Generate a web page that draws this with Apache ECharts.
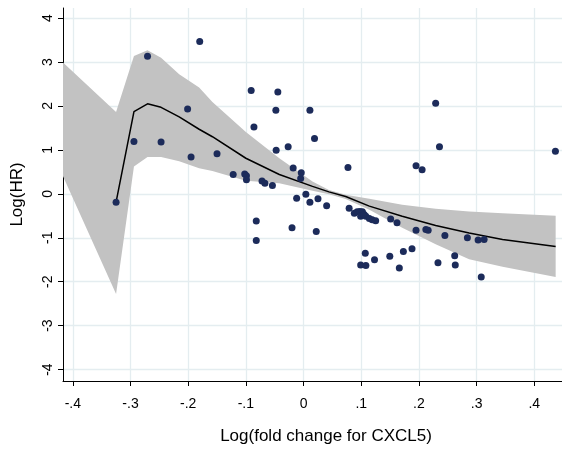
<!DOCTYPE html>
<html>
<head>
<meta charset="utf-8">
<script src="https://cdn.jsdelivr.net/npm/echarts@6/dist/echarts.min.js"></script>
<style>
  html, body { margin: 0; padding: 0; background: #fff; }
  #chart { width: 562px; height: 450px; }
</style>
</head>
<body>
<div id="chart"></div>
<script>
// observed points (x = log fold change, y = log HR)
const pointX = [
  -0.325, -0.294, -0.2705, -0.247, -0.201, -0.195, -0.180, -0.150, -0.122,
  -0.102, -0.099, -0.099, -0.0908, -0.086, -0.082, -0.082, -0.072, -0.067, -0.054,
  -0.048, -0.0475, -0.0446, -0.0267, -0.020, -0.018, -0.012, -0.005, -0.004,
  0.004, 0.011, 0.011, 0.019, 0.022, 0.025, 0.040, 0.077, 0.079,
  0.088, 0.093, 0.0976, 0.102, 0.099, 0.105, 0.108, 0.114, 0.119, 0.125,
  0.099, 0.108, 0.107, 0.123, 0.1495, 0.151, 0.162, 0.166, 0.173, 0.188,
  0.195, 0.195, 0.2055, 0.212, 0.216, 0.229, 0.233, 0.2356, 0.245, 0.262,
  0.263, 0.284, 0.3026, 0.308, 0.313, 0.4366
];
const pointY = [
  -0.19, 1.19, 3.13, 1.18, 1.93, 0.84, 3.47, 0.91, 0.44,
  0.45, 0.41, 0.32, 2.35, 1.52, -0.62, -1.06, 0.29, 0.24, 0.19,
  1.90, 0.99, 2.32, 1.07, -0.77, 0.59, -0.10, 0.35, 0.48,
  -0.01, 1.90, -0.19, 1.26, -0.86, -0.11, -0.27, 0.60, -0.33,
  -0.44, -0.41, -0.40, -0.41, -0.51, -0.47, -0.51, -0.56, -0.59, -0.61,
  -1.62, -1.63, -1.35, -1.50, -1.42, -0.57, -0.66, -1.69, -1.31, -1.25,
  -0.83, 0.64, 0.55, -0.81, -0.83, 2.06, -1.57, 1.07, -0.95, -1.41,
  -1.62, -1.00, -1.05, -1.89, -1.04, 0.97
];

// fitted curve
const fitX = [-0.325, -0.294, -0.2705, -0.247, -0.2156, -0.181, -0.158, -0.10, -0.042,
  0.0155, 0.044, 0.073, 0.114, 0.171, 0.229, 0.287, 0.345, 0.437];
const fitY = [-0.19, 1.87, 2.05, 1.97, 1.75, 1.47, 1.30, 0.81, 0.44,
  0.17, 0.045, -0.06, -0.28, -0.51, -0.72, -0.89, -1.04, -1.20];

// confidence band (first node lies left of the visible axis)
const bandX = [-0.5, -0.325, -0.294, -0.2705, -0.247, -0.2156, -0.181, -0.158, -0.10, -0.042,
  0.0155, 0.044, 0.073, 0.114, 0.171, 0.229, 0.287, 0.345, 0.437];
const bandUpper = [4.01, 1.86, 3.14, 3.27, 3.10, 2.72, 2.42, 2.09, 1.41, 0.81,
  0.28, 0.09, -0.02, -0.11, -0.25, -0.34, -0.40, -0.44, -0.50];
const bandLower = [2.82, -2.28, 0.62, 0.84, 0.84, 0.74, 0.58, 0.52, 0.30, 0.24,
  0.07, -0.01, -0.12, -0.36, -0.77, -1.15, -1.49, -1.66, -1.89];

const xTicks = [-0.4, -0.3, -0.2, -0.1, 0, 0.1, 0.2, 0.3, 0.4];
const yTicks = [-4, -3, -2, -1, 0, 1, 2, 3, 4];

const FONT = 'Liberation Sans, Arial, sans-serif';
const GRID_COLOR = '#e4edf0';

function stataNum(v) {
  const s = String(Math.round(v * 10) / 10);
  return s.replace(/^(-?)0\./, '$1.');
}

const chart = echarts.init(document.getElementById('chart'), null, { renderer: 'canvas' });

chart.setOption({
  animation: false,
  backgroundColor: '#fff',
  grid: { left: 63, right: 0, top: 8, bottom: 66 },
  xAxis: {
    type: 'value',
    min: -0.417,
    max: 0.448,
    name: 'Log(fold change for CXCL5)',
    nameLocation: 'middle',
    nameGap: 47,
    // the original plot region runs past the right edge, so its title sits right of centre
    nameTextStyle: { fontFamily: FONT, fontSize: 17, color: '#000', padding: [0, 0, 0, 27] },
    axisLine: { show: true, onZero: false, lineStyle: { color: '#000', width: 1 } },
    axisTick: { show: true, length: 5, customValues: xTicks, lineStyle: { color: '#000' } },
    axisLabel: {
      customValues: xTicks, margin: 16, fontFamily: FONT, fontSize: 14, color: '#000',
      formatter: stataNum
    },
    splitLine: { show: true, lineStyle: { color: GRID_COLOR, width: 1.3 } }
  },
  yAxis: {
    type: 'value',
    min: -4.26,
    max: 4.23,
    name: 'Log(HR)',
    nameLocation: 'middle',
    nameGap: 37,
    nameTextStyle: { fontFamily: FONT, fontSize: 17, color: '#000' },
    axisLine: { show: true, onZero: false, lineStyle: { color: '#000', width: 1 } },
    axisTick: { show: true, length: 5, customValues: yTicks, lineStyle: { color: '#000' } },
    axisLabel: {
      customValues: yTicks, rotate: 90, margin: 8, fontFamily: FONT, fontSize: 14, color: '#000',
      formatter: stataNum
    },
    splitLine: { show: true, lineStyle: { color: GRID_COLOR, width: 1.3 } }
  },
  series: [
    {
      type: 'custom',
      name: 'band',
      clip: true,
      silent: true,
      encode: { x: 0, y: [1, 2] },
      data: bandX.map((x, i) => [x, bandLower[i], bandUpper[i]]),
      renderItem: function (params, api) {
        if (params.dataIndex !== 0) return null;
        const pts = [];
        for (let i = 0; i < bandX.length; i++) pts.push(api.coord([bandX[i], bandUpper[i]]));
        for (let i = bandX.length - 1; i >= 0; i--) pts.push(api.coord([bandX[i], bandLower[i]]));
        return { type: 'polygon', shape: { points: pts }, style: { fill: '#c2c2c2' } };
      },
      z: 1
    },
    {
      type: 'line',
      name: 'fit',
      data: fitX.map((x, i) => [x, fitY[i]]),
      showSymbol: false,
      symbol: 'none',
      lineStyle: { color: '#000', width: 1.5 },
      z: 2
    },
    {
      type: 'scatter',
      name: 'obs',
      data: pointX.map((x, i) => [x, pointY[i]]),
      symbolSize: 7,
      itemStyle: { color: '#1c2b5a', opacity: 1 },
      z: 3
    }
  ]
});
</script>
</body>
</html>
